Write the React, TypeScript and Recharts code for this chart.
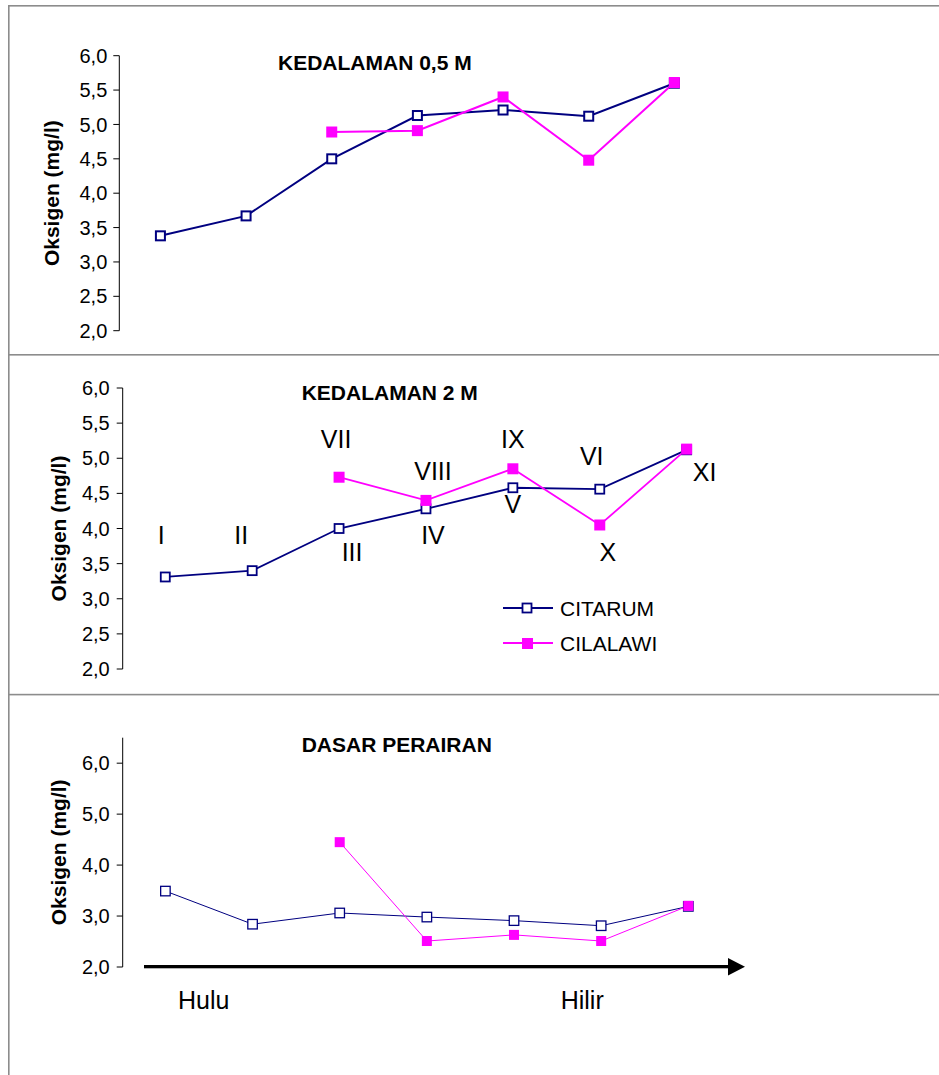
import React from 'react';
import { LineChart, Line, XAxis, YAxis, ReferenceDot, Legend } from 'recharts';

// ---------- data ----------
const stations = [1, 2, 3, 4, 5, 6, 7];
const seriesNames = ['CITARUM', 'CILALAWI'];

const citarum05 = [3.38, 3.67, 4.5, 5.13, 5.21, 5.12, 5.6];
const cilalawi05 = [null, null, 4.89, 4.91, 5.4, 4.48, 5.61];

const citarum2 = [3.31, 3.4, 4.0, 4.28, 4.58, 4.56, 5.12];
const cilalawi2 = [null, null, 4.73, 4.4, 4.85, 4.05, 5.13];

const citarumDasar = [3.49, 2.84, 3.06, 2.98, 2.91, 2.81, 3.19];
const cilalawiDasar = [null, null, 4.45, 2.51, 2.63, 2.51, 3.2];

const ticksHalf = [2, 2.5, 3, 3.5, 4, 4.5, 5, 5.5, 6];
const ticksWhole = [2, 3, 4, 5, 6];

const titles = ['KEDALAMAN 0,5 M', 'KEDALAMAN 2 M', 'DASAR PERAIRAN'];
const yLabel = 'Oksigen (mg/l)';
const flowLabels = ['Hulu', 'Hilir'];

// station numeral annotations for the 2 m panel
const stationNames = ['I', 'II', 'VII', 'III', 'VIII', 'IV', 'IX', 'V', 'VI', 'X', 'XI'];
const stationNameAt = [1, 2, 3, 3, 4, 4, 5, 5, 6, 6, 7];
const stationNameValue = [3.78, 3.78, 5.14, 3.54, 4.69, 3.78, 5.14, 4.22, 4.91, 3.54, 4.67];
const stationNameDx = [-4, -11, -3, 13, 7, 7, 0, 0, -8, 8, 18];

// ---------- styling ----------
const NAVY = '#000080';
const MAGENTA = '#FF00FF';
const FONT = '"Liberation Sans", Arial, Helvetica, sans-serif';
const FRAME = '#8c8c8c';

const build = (a: (number | null)[], b: (number | null)[]) =>
  stations.map((s, i) => ({ x: s, citarum: a[i], cilalawi: b[i] }));

const fmt = (v: number) => v.toFixed(1).replace('.', ',');

const hollowSquare = (size: number, sw: number) => (props: any) => {
  const { cx, cy, index } = props;
  if (cx == null || cy == null || props.value == null) return <g key={`h${index}`} />;
  return (
    <rect key={`h${index}`} x={cx - size / 2} y={cy - size / 2} width={size} height={size}
      fill="#ffffff" stroke={NAVY} strokeWidth={sw} />
  );
};

const filledSquare = (size: number) => (props: any) => {
  const { cx, cy, index } = props;
  if (cx == null || cy == null || props.value == null) return <g key={`f${index}`} />;
  return <rect key={`f${index}`} x={cx - size / 2} y={cy - size / 2} width={size} height={size} fill={MAGENTA} />;
};

const yLabelContent = (lx: number) => (props: any) => {
  const vb = props.viewBox || {};
  const cy = (vb.y || 0) + (vb.height || 0) / 2;
  return (
    <text x={lx} y={cy} transform={`rotate(-90 ${lx} ${cy})`} textAnchor="middle" dominantBaseline="central"
      style={{ fontFamily: FONT, fontSize: 21, fontWeight: 'bold', fill: '#000' }}>
      {yLabel}
    </text>
  );
};

const renderLegend = () => (
  <div style={{ fontFamily: FONT }}>
    {seriesNames.map((name, i) => (
      <div key={name} style={{ display: 'flex', alignItems: 'center', height: 35 }}>
        <svg width={50} height={14} style={{ display: 'block' }}>
          <line x1={0} x2={50} y1={7} y2={7} stroke={i === 0 ? NAVY : MAGENTA} strokeWidth={2} />
          {i === 0 ? (
            <rect x={19.5} y={2.5} width={9} height={9} fill="#fff" stroke={NAVY} strokeWidth={1.8} />
          ) : (
            <rect x={19} y={2} width={11} height={11} fill={MAGENTA} />
          )}
        </svg>
        <span style={{ marginLeft: 7, fontSize: 21, color: '#000', lineHeight: '21px' }}>{name}</span>
      </div>
    ))}
  </div>
);

const tickStyle = { fontFamily: FONT, fontSize: 20, fill: '#000' };

export default function App() {
  const d1 = build(citarum05, cilalawi05);
  const d2 = build(citarum2, cilalawi2);
  const d3 = build(citarumDasar, cilalawiDasar);

  return (
    <div style={{ position: 'absolute', left: 0, top: 0, width: 939, height: 1075, background: '#fff', overflow: 'hidden' }}>
      {/* Panel 1 */}
      <div style={{ position: 'absolute', left: 0, top: 0 }}>
        <LineChart width={939} height={355} data={d1}
          margin={{ top: 55.7, right: 221.8, bottom: 24.3, left: 0 }}>
          <XAxis type="number" dataKey="x" domain={[0.52, 7.5]} hide />
          <YAxis width={119.3} domain={[2, 6]} ticks={ticksHalf} interval={0} tickFormatter={fmt}
            tick={tickStyle} tickSize={6} tickMargin={6}
            axisLine={{ stroke: '#000' }} tickLine={{ stroke: '#000' }}
            label={{ content: yLabelContent(52) } as any} />
          <Line dataKey="citarum" stroke={NAVY} strokeWidth={2} dot={hollowSquare(9, 2)} isAnimationActive={false} />
          <Line dataKey="cilalawi" stroke={MAGENTA} strokeWidth={2} dot={filledSquare(11)} isAnimationActive={false} />
        </LineChart>
      </div>

      {/* Panel 2 */}
      <div style={{ position: 'absolute', left: 0, top: 355 }}>
        <LineChart width={939} height={340} data={d2}
          margin={{ top: 33, right: 208.9, bottom: 26, left: 0 }}>
          <XAxis type="number" dataKey="x" domain={[0.51, 7.5]} hide />
          <YAxis width={122.7} domain={[2, 6]} ticks={ticksHalf} interval={0} tickFormatter={fmt}
            tick={tickStyle} tickSize={6} tickMargin={7}
            axisLine={{ stroke: '#000' }} tickLine={{ stroke: '#000' }}
            label={{ content: yLabelContent(58.5) } as any} />
          <Line dataKey="citarum" name={seriesNames[0]} stroke={NAVY} strokeWidth={1.8} dot={hollowSquare(9, 1.8)} isAnimationActive={false} />
          <Line dataKey="cilalawi" name={seriesNames[1]} stroke={MAGENTA} strokeWidth={1.8} dot={filledSquare(11)} isAnimationActive={false} />
          {stationNames.map((t, i) => (
            <ReferenceDot key={t} x={stationNameAt[i]} y={stationNameValue[i]} r={0}
              shape={(p: any) => (
                <text x={p.cx + stationNameDx[i]} y={p.cy} textAnchor="middle"
                  style={{ fontFamily: FONT, fontSize: 25, fill: '#000' }}>{t}</text>
              )} />
          ))}
          <Legend layout="vertical" align="center" verticalAlign="middle" content={renderLegend}
            wrapperStyle={{ left: 503, top: 235.8, width: 200, height: 70 }} />
        </LineChart>
      </div>

      {/* Panel 3 */}
      <div style={{ position: 'absolute', left: 0, top: 694 }}>
        <LineChart width={939} height={381} data={d3}
          margin={{ top: 43.7, right: 207.1, bottom: 108, left: 0 }}>
          <XAxis type="number" dataKey="x" domain={[0.51, 7.5]} hide />
          <YAxis width={122.7} domain={[2, 6.5]} ticks={ticksWhole} interval={0} tickFormatter={fmt}
            tick={tickStyle} tickSize={6} tickMargin={7}
            axisLine={{ stroke: '#000' }} tickLine={{ stroke: '#000' }}
            label={{ content: yLabelContent(58.5) } as any} />
          <Line dataKey="citarum" stroke={NAVY} strokeWidth={1} dot={hollowSquare(9.5, 1.3)} isAnimationActive={false} />
          <Line dataKey="cilalawi" stroke={MAGENTA} strokeWidth={1} dot={filledSquare(10)} isAnimationActive={false} />
        </LineChart>
      </div>

      {/* frame, titles, flow arrow */}
      <svg width={939} height={1075} style={{ position: 'absolute', left: 0, top: 0, pointerEvents: 'none' }}>
        <rect x={8} y={5} width={931} height={1.6} fill={FRAME} />
        <rect x={8} y={5} width={1.6} height={1070} fill={FRAME} />
        <rect x={8} y={354} width={931} height={1.6} fill={FRAME} />
        <rect x={8} y={693.8} width={931} height={1.6} fill={FRAME} />

        <text x={278} y={70} style={{ fontFamily: FONT, fontSize: 21, fontWeight: 'bold', fill: '#000' }}>{titles[0]}</text>
        <text x={301.7} y={400} style={{ fontFamily: FONT, fontSize: 21, fontWeight: 'bold', fill: '#000' }}>{titles[1]}</text>
        <text x={301.7} y={752} style={{ fontFamily: FONT, fontSize: 21, fontWeight: 'bold', fill: '#000' }}>{titles[2]}</text>

        <rect x={144} y={965} width={586} height={3.3} fill="#000" />
        <polygon points="728,958 745,966.7 728,975.4" fill="#000" />
        <text x={178} y={1009.3} style={{ fontFamily: FONT, fontSize: 25, fill: '#000' }}>{flowLabels[0]}</text>
        <text x={560.7} y={1009.3} style={{ fontFamily: FONT, fontSize: 25, fill: '#000' }}>{flowLabels[1]}</text>
      </svg>
    </div>
  );
}
